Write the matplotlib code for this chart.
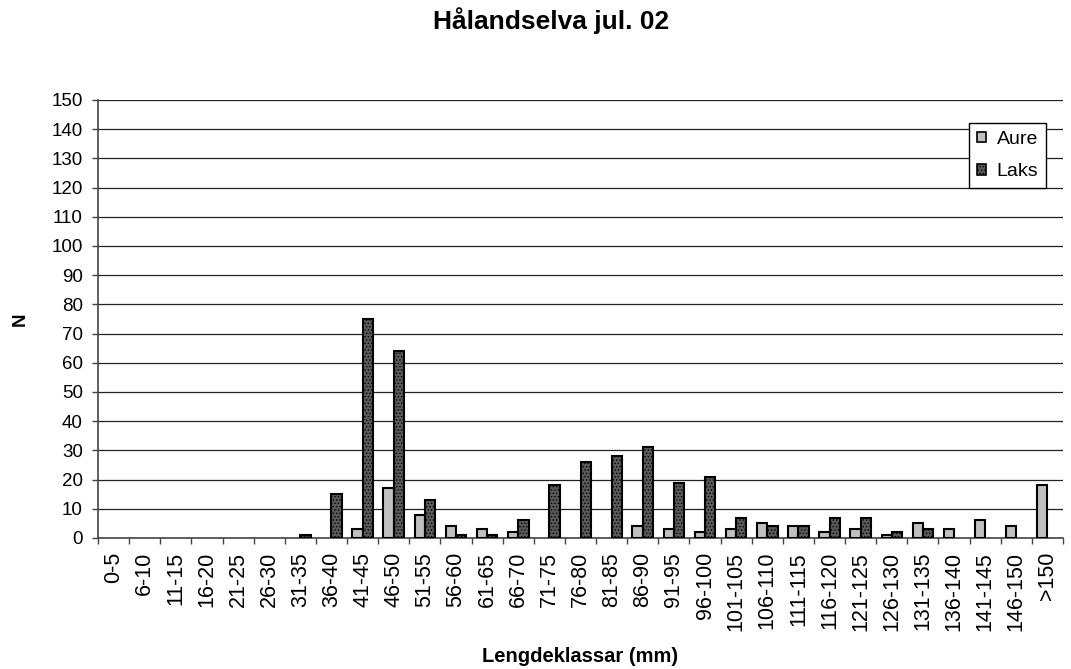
import matplotlib.pyplot as plt
import numpy as np

plt.rcParams['font.family'] = ['Liberation Sans', 'DejaVu Sans']
plt.rcParams['hatch.linewidth'] = 0.6

klassar = ['0-5', '6-10', '11-15', '16-20', '21-25', '26-30', '31-35', '36-40',
           '41-45', '46-50', '51-55', '56-60', '61-65', '66-70', '71-75', '76-80',
           '81-85', '86-90', '91-95', '96-100', '101-105', '106-110', '111-115',
           '116-120', '121-125', '126-130', '131-135', '136-140', '141-145',
           '146-150', '>150']
aure = [0, 0, 0, 0, 0, 0, 0, 0, 3, 17, 8, 4, 3, 2, 0, 0, 0, 4, 3, 2, 3, 5, 4,
        2, 3, 1, 5, 3, 6, 4, 18]
laks = [0, 0, 0, 0, 0, 0, 1, 15, 75, 64, 13, 1, 1, 6, 18, 26, 28, 31, 19, 21,
        7, 4, 4, 7, 7, 2, 3, 0, 0, 0, 0]

W, H = 1071, 669
x = np.arange(len(klassar))
w = 0.33

fig = plt.figure(figsize=(W / 100, H / 100), dpi=100)
ax = fig.add_axes([98 / W, 1 - 538 / H, (1063 - 98) / W, (538 - 100) / H])

# no outline on empty classes
ax.bar(x - w / 2, aure, w, color='#c0c0c0', edgecolor='black',
       linewidth=[1.5 if v else 0 for v in aure], label='Aure', zorder=3)
ax.bar(x + w / 2, laks, w, color='#5a5a5a', edgecolor='black',
       linewidth=[1.5 if v else 0 for v in laks], hatch='.....',
       label='Laks', zorder=3)

ax.set_xlim(-0.5, len(klassar) - 0.5)
ax.set_ylim(0, 150)
ax.set_yticks(np.arange(0, 151, 10))
ax.yaxis.grid(True, color='#222222', linewidth=0.9, zorder=0)

ax.set_xticks(x)
ax.set_xticklabels(klassar, rotation=90, fontsize=15.5)
ax.set_xticks(np.arange(-0.5, len(klassar), 1), minor=True)
ax.tick_params(axis='x', which='major', length=0, pad=10)
ax.tick_params(axis='x', which='minor', length=4, width=1, color='#444444')
ax.tick_params(axis='y', length=4, width=1, color='#444444', labelsize=13.5, pad=7)

for s in ['top', 'right']:
    ax.spines[s].set_visible(False)
for s in ['left', 'bottom']:
    ax.spines[s].set_color('#444444')
    ax.spines[s].set_linewidth(1.2)

ax.set_ylabel('N', fontsize=13.5, fontweight='bold', rotation=90, va='center')
ax.yaxis.set_label_coords(20 / W, 1 - 319 / H, transform=fig.transFigure)
ax.set_xlabel('Lengdeklassar (mm)', fontsize=14.5, fontweight='bold', va='center')
ax.xaxis.set_label_coords(580 / W, 1 - 657 / H, transform=fig.transFigure)
fig.text(551 / W, 1 - 21 / H, 'Hålandselva jul. 02', ha='center', va='center',
         fontsize=19, fontweight='bold')

leg = ax.legend(loc='upper right', bbox_to_anchor=(1046 / W, 1 - 123 / H),
                bbox_transform=fig.transFigure, fontsize=14, fancybox=False,
                edgecolor='black', framealpha=1, handlelength=0.46,
                handleheight=0.46, handletextpad=0.55, borderpad=0.4,
                labelspacing=0.8, borderaxespad=0)
leg.get_frame().set_linewidth(1.0)
for h in leg.legend_handles:
    h.set_linewidth(1.2)

fig.savefig('out.png', dpi=100)
